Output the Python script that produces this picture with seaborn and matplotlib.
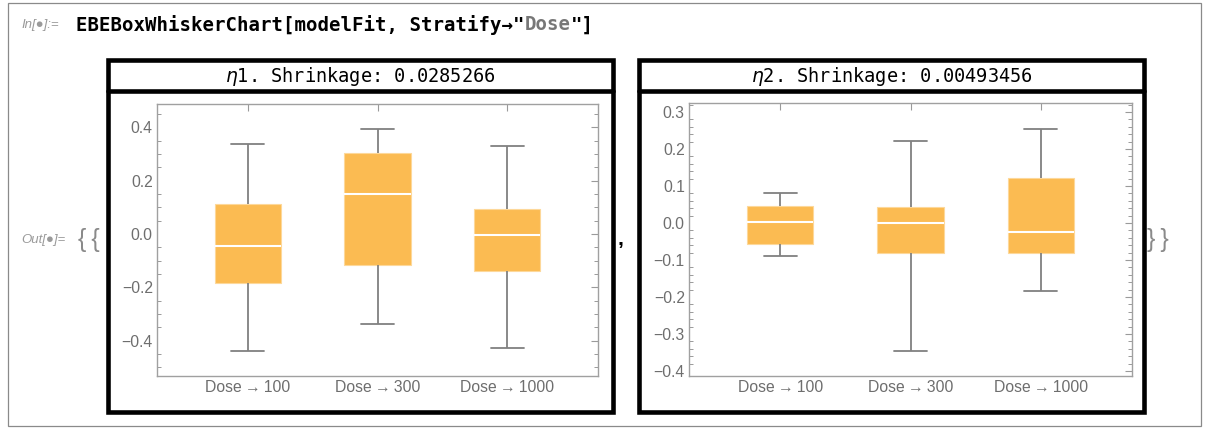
import numpy as np
import pandas as pd
import matplotlib
matplotlib.use("Agg")
import matplotlib.pyplot as plt
from matplotlib.patches import Rectangle
from matplotlib.lines import Line2D
from matplotlib.ticker import FixedLocator
import seaborn as sns

# ---- data: five-number summaries (min, Q1, median, Q3, max) ----
doses = ["Dose\u2009\u2192\u2009100", "Dose\u2009\u2192\u2009300", "Dose\u2009\u2192\u20091000"]
eta1_d100 = [-0.437, -0.185, -0.046, 0.111, 0.339]
eta1_d300 = [-0.336, -0.117, 0.149, 0.304, 0.395]
eta1_d1000 = [-0.426, -0.139, -0.004, 0.094, 0.331]
eta2_d100 = [-0.0895, -0.058, 0.002, 0.045, 0.080]
eta2_d300 = [-0.346, -0.080, 0.001, 0.0445, 0.2225]
eta2_d1000 = [-0.1845, -0.0814, -0.0244, 0.1205, 0.255]
titles = ["$\\eta$1. Shrinkage: 0.0285266", "$\\eta$2. Shrinkage: 0.00493456"]
eta1_ticks = [-0.4, -0.2, 0.0, 0.2, 0.4]
eta2_ticks = [-0.4, -0.3, -0.2, -0.1, 0.0, 0.1, 0.2, 0.3]

def long_df(groups):
    rows = []
    for dose, vals in zip(doses, groups):
        for v in vals:
            rows.append({"dose": dose, "value": v})
    return pd.DataFrame(rows)

df1 = long_df([eta1_d100, eta1_d300, eta1_d1000])
df2 = long_df([eta2_d100, eta2_d300, eta2_d1000])

sns.set_style("white")
plt.rcParams["font.family"] = ["Liberation Sans", "DejaVu Sans"]
plt.rcParams["mathtext.fontset"] = "dejavusans"

W, H = 1209, 428
fig = plt.figure(figsize=(W / 100, H / 100), dpi=100)
fig.patch.set_facecolor("white")
renderer = fig.canvas.get_renderer()

def rect(x, y, w, h):
    return [x / W, 1 - (y + h) / H, w / W, h / H]

def fx(x):
    return x / W

def fy(y):
    return 1 - y / H

# outer notebook cell border
fig.add_artist(Rectangle((fx(8), fy(426)), fx(1201) - fx(8), fy(3) - fy(426),
                         transform=fig.transFigure, fill=False,
                         edgecolor="#8a8a8a", linewidth=0.9))

# input line, drawn piece by piece
fig.text(fx(21), fy(25), "In[\u25CF]:=", fontsize=9.5, style="italic",
         color="#9a9a9a", va="center", ha="left")
pieces = [("EBEBoxWhiskerChart[modelFit, Stratify\u2192\"", "black"),
          ("Dose", "#777777"), ("\"]", "black")]
xcur = 76
for s, c in pieces:
    t = fig.text(fx(xcur), fy(25), s, fontsize=13.7,
                 family=["DejaVu Sans Mono", "DejaVu Sans"], weight="bold",
                 color=c, va="center", ha="left")
    bb = t.get_window_extent(renderer=renderer)
    xcur += bb.width

# output line
fig.text(fx(21), fy(240), "Out[\u25CF]=", fontsize=9.5, style="italic",
         color="#9a9a9a", va="center", ha="left")
fig.text(fx(78), fy(240), "{\u2009{", fontsize=18, color="#8a8a8a",
         va="center", ha="left", family=["Liberation Sans", "DejaVu Sans"])
fig.text(fx(620), fy(240), ",", fontsize=15, color="black",
         weight="bold", va="center", ha="center")
fig.text(fx(1147), fy(240), "}\u2009}", fontsize=18, color="#8a8a8a",
         va="center", ha="left", family=["Liberation Sans", "DejaVu Sans"])

panels = [
    dict(df=df1, frame=(108, 60, 505, 352), ax=(157, 104, 441, 272),
         ylim=(-0.532, 0.4875), major=eta1_ticks, minor_step=0.05,
         title=titles[0]),
    dict(df=df2, frame=(639, 60, 505, 352), ax=(689, 103, 443, 273),
         ylim=(-0.4136, 0.3244), major=eta2_ticks, minor_step=0.02,
         title=titles[1]),
]

box_color = "#FBBB52"
line_gray = "#808080"
tick_gray = "#9a9a9a"
label_gray = "#6e6e6e"

for p in panels:
    fxl, fyt, fw, fh = p["frame"]
    lw_frame = 3.3
    fig.add_artist(Rectangle((fx(fxl), fy(fyt + fh)), fw / W, fh / H,
                             transform=fig.transFigure, fill=False,
                             edgecolor="black", linewidth=lw_frame))
    fig.add_artist(Line2D([fx(fxl), fx(fxl + fw)], [fy(fyt + 31), fy(fyt + 31)],
                          transform=fig.transFigure, color="black",
                          linewidth=lw_frame))
    fig.text(fx(fxl + fw / 2), fy(fyt + 16), p["title"], fontsize=13.4,
             family=["DejaVu Sans Mono", "DejaVu Sans"], ha="center",
             va="center", color="black")

    ax = fig.add_axes(rect(*p["ax"]))
    sns.boxplot(data=p["df"], x="dose", y="value", order=doses, ax=ax,
                whis=(0, 100), width=0.51, showfliers=False,
                color=box_color, saturation=1, linecolor=line_gray,
                linewidth=1.3,
                boxprops=dict(facecolor=box_color, edgecolor="#FDD89A",
                              linewidth=0.8),
                medianprops=dict(color="white", linewidth=1.5),
                whiskerprops=dict(color=line_gray, linewidth=1.3),
                capprops=dict(color=line_gray, linewidth=1.3))
    ax.set_xlim(-0.7, 2.7)
    ax.set_ylim(*p["ylim"])
    ax.set_xlabel("")
    ax.set_ylabel("")
    ax.yaxis.set_major_locator(FixedLocator(p["major"]))
    lo, hi = p["ylim"]
    step = p["minor_step"]
    minors = np.round(np.arange(np.ceil(lo / step) * step, hi, step), 4)
    ax.yaxis.set_minor_locator(FixedLocator(list(minors)))
    ax.set_yticklabels([f"{v:.1f}".replace("-", "\u2212") for v in p["major"]])
    for sp in ax.spines.values():
        sp.set_visible(True)
        sp.set_color("#a0a0a0")
        sp.set_linewidth(1.0)
    ax.tick_params(axis="both", which="major", direction="in", length=5,
                   width=0.8, color=tick_gray, labelcolor=label_gray,
                   labelsize=11.3, top=True, right=True, pad=3)
    ax.tick_params(axis="y", which="minor", direction="in", length=2.6,
                   width=0.7, color=tick_gray, right=True, left=True)
    ax.tick_params(axis="x", which="minor", bottom=False, top=False)
    ax.set_facecolor("white")

fig.savefig("out.png", dpi=100, facecolor="white")
